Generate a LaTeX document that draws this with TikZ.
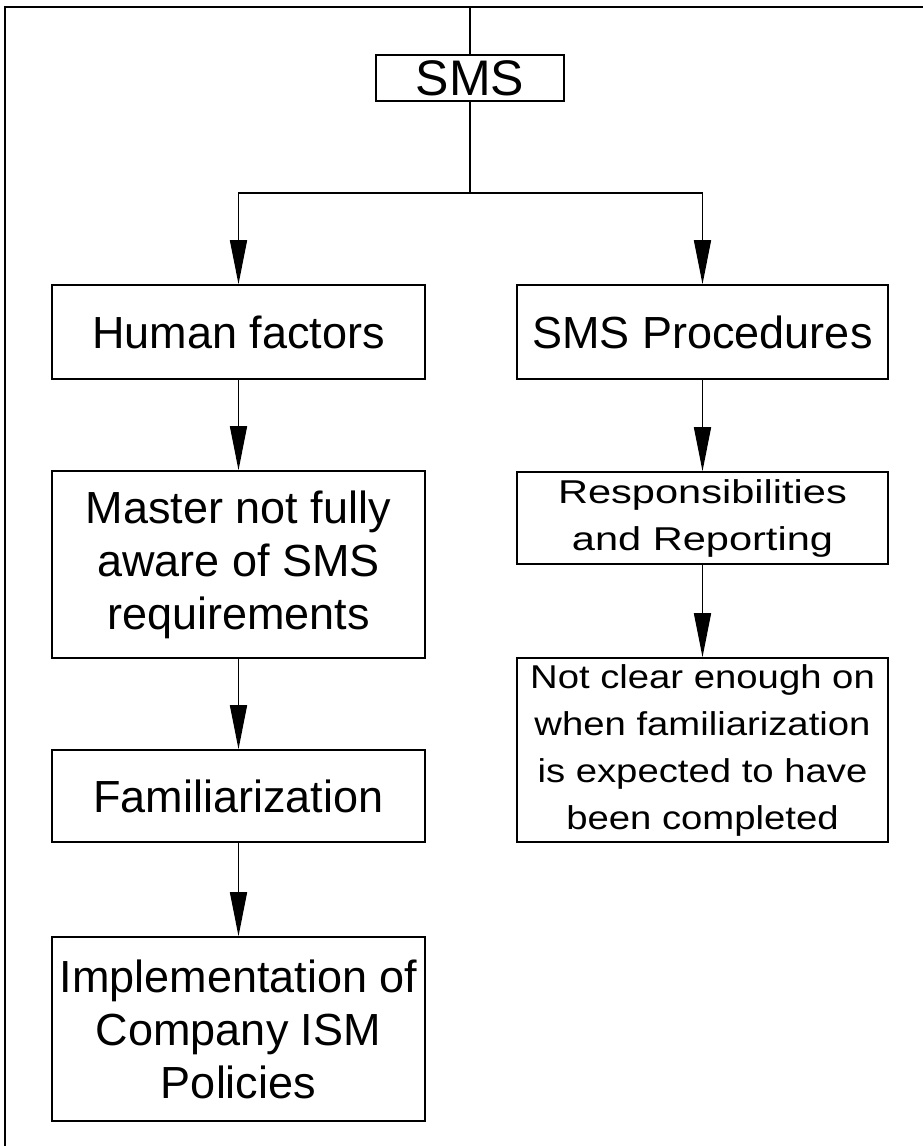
\documentclass[tikz,border=0pt]{standalone}
\usepackage{fontspec}
\setmainfont{Liberation Sans}
\newfontfamily\widefont{Liberation Sans}[FakeStretch=1.16]
\newfontfamily\widerfont{Liberation Sans}[FakeStretch=1.26]
\usetikzlibrary{arrows.meta}

\begin{document}
\begin{tikzpicture}[x=1pt,y=-1pt,
  line width=1.6pt,
  box/.style={draw, inner sep=0pt, align=center,
    font=\fontsize{45}{53}\selectfont},
  smallbox/.style={draw, inner sep=0pt, align=center,
    font=\widefont\fontsize{33}{47}\selectfont},
  flow/.style={-{Triangle[length=44pt,width=17pt]}},
]
\useasboundingbox (0,0) rectangle (923,1146);

% outer frame
\draw (5,1150) -- (5,7) -- (930,7);

% root
\node[box, minimum width=188pt, minimum height=46pt,
  font=\fontsize{50}{60}\selectfont] (sms) at (470,78) {SMS};

% left branch
\node[box, minimum width=373pt, minimum height=94pt]  (hf)  at (238.5,332)   {Human factors};
\node[box, minimum width=373pt, minimum height=187pt] (mas) at (238.5,564.5) {Master not fully\\aware of SMS\\requirements};
\node[box, minimum width=373pt, minimum height=92pt]  (fam) at (238.5,796)   {Familiarization};
\node[box, minimum width=373pt, minimum height=184pt] (imp) at (238.5,1029)  {Implementation of\\Company ISM\\Policies};

% right branch
\node[box, minimum width=371pt, minimum height=94pt]  (sp)   at (702.5,332) {SMS Procedures};
\node[smallbox, minimum width=371pt, minimum height=92pt,
  font=\widerfont\fontsize{33}{47}\selectfont] (resp) at (702.5,518) {Responsibilities\\and Reporting};
\node[smallbox, minimum width=371pt, minimum height=184pt] (nc) at (702.5,750) {Not clear enough on\\when familiarization\\is expected to have\\been completed};

% connectors
\coordinate (top) at (470,7);
\coordinate (split) at (470,193);
\draw (top) -- (sms.north);
\draw (sms.south) -- (split);
\draw[flow] (split) -| (hf.north);
\draw[flow] (split) -| (sp.north);

\draw[flow] (hf.south)  -- (mas.north);
\draw[flow] (mas.south) -- (fam.north);
\draw[flow] (fam.south) -- (imp.north);

\draw[flow] (sp.south) -- (resp.north);
\draw[flow] (resp.south) -- (nc.north);
\end{tikzpicture}
\end{document}
